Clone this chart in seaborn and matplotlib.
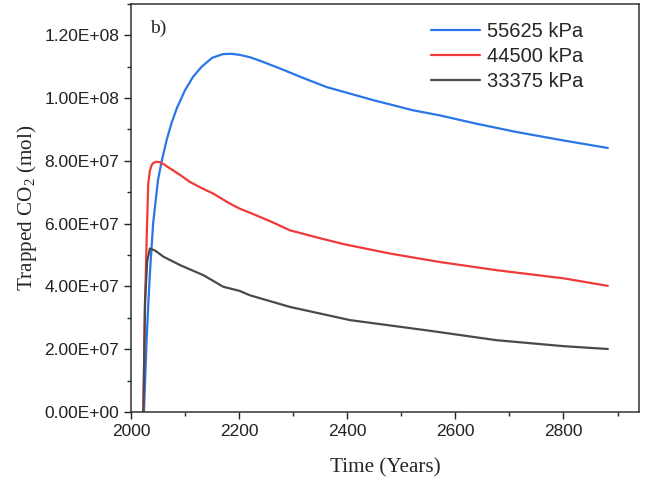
import numpy as np
import pandas as pd
import seaborn as sns
import matplotlib
matplotlib.use("Agg")
import matplotlib.pyplot as plt
from matplotlib.ticker import MultipleLocator, FuncFormatter

# ---- data (values in 1e6 mol) ----
labels = ["55625 kPa", "44500 kPa", "33375 kPa"]
colors = ["#2a76e6", "#f03a3a", "#4a4a4a"]

x_55625 = [2024, 2026, 2029, 2032, 2035, 2041, 2050, 2057, 2066, 2075, 2085, 2100, 2115, 2131,
           2150, 2170, 2185, 2200, 2220, 2240, 2276, 2320, 2362, 2449, 2522, 2571, 2640, 2713,
           2800, 2882]
y_55625 = [0.0, 9.0, 22.9, 34.0, 44.0, 60.0, 73.9, 80.0, 86.6, 92.0, 96.8, 102.5, 106.8, 110.0,
           112.8, 114.0, 114.1, 113.8, 113.0, 111.8, 109.4, 106.3, 103.5, 99.3, 96.1, 94.5, 91.8,
           89.2, 86.5, 84.1]

x_44500 = [2023, 2026, 2029, 2032, 2035, 2038, 2042, 2047, 2053, 2060, 2075, 2091, 2109, 2130,
           2152, 2183, 2201, 2220, 2260, 2294, 2340, 2393, 2479, 2571, 2676, 2800, 2882]
y_44500 = [0.0, 33.5, 54.8, 72.8, 76.8, 78.6, 79.4, 79.7, 79.6, 79.0, 77.3, 75.5, 73.3, 71.4,
           69.6, 66.4, 64.8, 63.5, 60.6, 57.9, 55.8, 53.5, 50.5, 47.8, 45.2, 42.6, 40.2]

x_33375 = [2023, 2026, 2030, 2035, 2045, 2060, 2091, 2134, 2171, 2201, 2220, 2294, 2405, 2553,
           2676, 2800, 2882]
y_33375 = [0.0, 35.0, 48.0, 52.1, 51.4, 49.5, 46.8, 43.6, 39.9, 38.6, 37.2, 33.5, 29.3, 25.9,
           22.9, 21.0, 20.1]

xs = [x_55625, x_44500, x_33375]
ys = [y_55625, y_44500, y_33375]

frames = []
for lab, xv, yv in zip(labels, xs, ys):
    frames.append(pd.DataFrame({"Time": xv, "Trapped": np.array(yv) * 1e6, "Series": lab}))
df = pd.concat(frames, ignore_index=True)

sns.set_style("ticks")
plt.rcParams["font.family"] = ["Liberation Sans", "DejaVu Sans"]
plt.rcParams["mathtext.fontset"] = "custom"
plt.rcParams["mathtext.rm"] = "Liberation Serif"
plt.rcParams["mathtext.it"] = "Liberation Serif:italic"

fig = plt.figure(figsize=(6.45, 4.82), dpi=100)
ax = fig.add_axes([0.203, 0.145, 0.788, 0.847])

sns.lineplot(data=df, x="Time", y="Trapped", hue="Series", hue_order=labels,
             palette=colors, linewidth=1.6, ax=ax, sort=False, estimator=None)

ax.set_xlim(2000, 2940)
ax.set_ylim(0, 1.3e8)
ax.xaxis.set_major_locator(MultipleLocator(200))
ax.xaxis.set_minor_locator(MultipleLocator(100))
ax.yaxis.set_major_locator(MultipleLocator(2e7))
ax.yaxis.set_minor_locator(MultipleLocator(1e7))
ax.yaxis.set_major_formatter(FuncFormatter(lambda v, p: f"{v:.2E}"))
ax.tick_params(axis="both", which="major", direction="out", length=5, width=1,
               labelsize=12.5, colors="#222222")
ax.tick_params(axis="both", which="minor", direction="out", length=3, width=1)
for sp in ax.spines.values():
    sp.set_linewidth(1.1)
    sp.set_color("#333333")

ax.set_xlabel("Time (Years)", family="Liberation Serif", fontsize=15.2, labelpad=14)
ax.set_ylabel("Trapped CO$_2$ (mol)", family="Liberation Serif", fontsize=15.2, labelpad=4)

ax.text(0.038, 0.94, "b)", transform=ax.transAxes, family="Liberation Serif",
        fontsize=14, va="center", ha="left")

leg = ax.legend(loc="upper right", bbox_to_anchor=(0.925, 1.0), frameon=False,
                fontsize=14.5, handlelength=2.4, handletextpad=0.35, labelspacing=0.3)

fig.savefig("out.png", dpi=100)
